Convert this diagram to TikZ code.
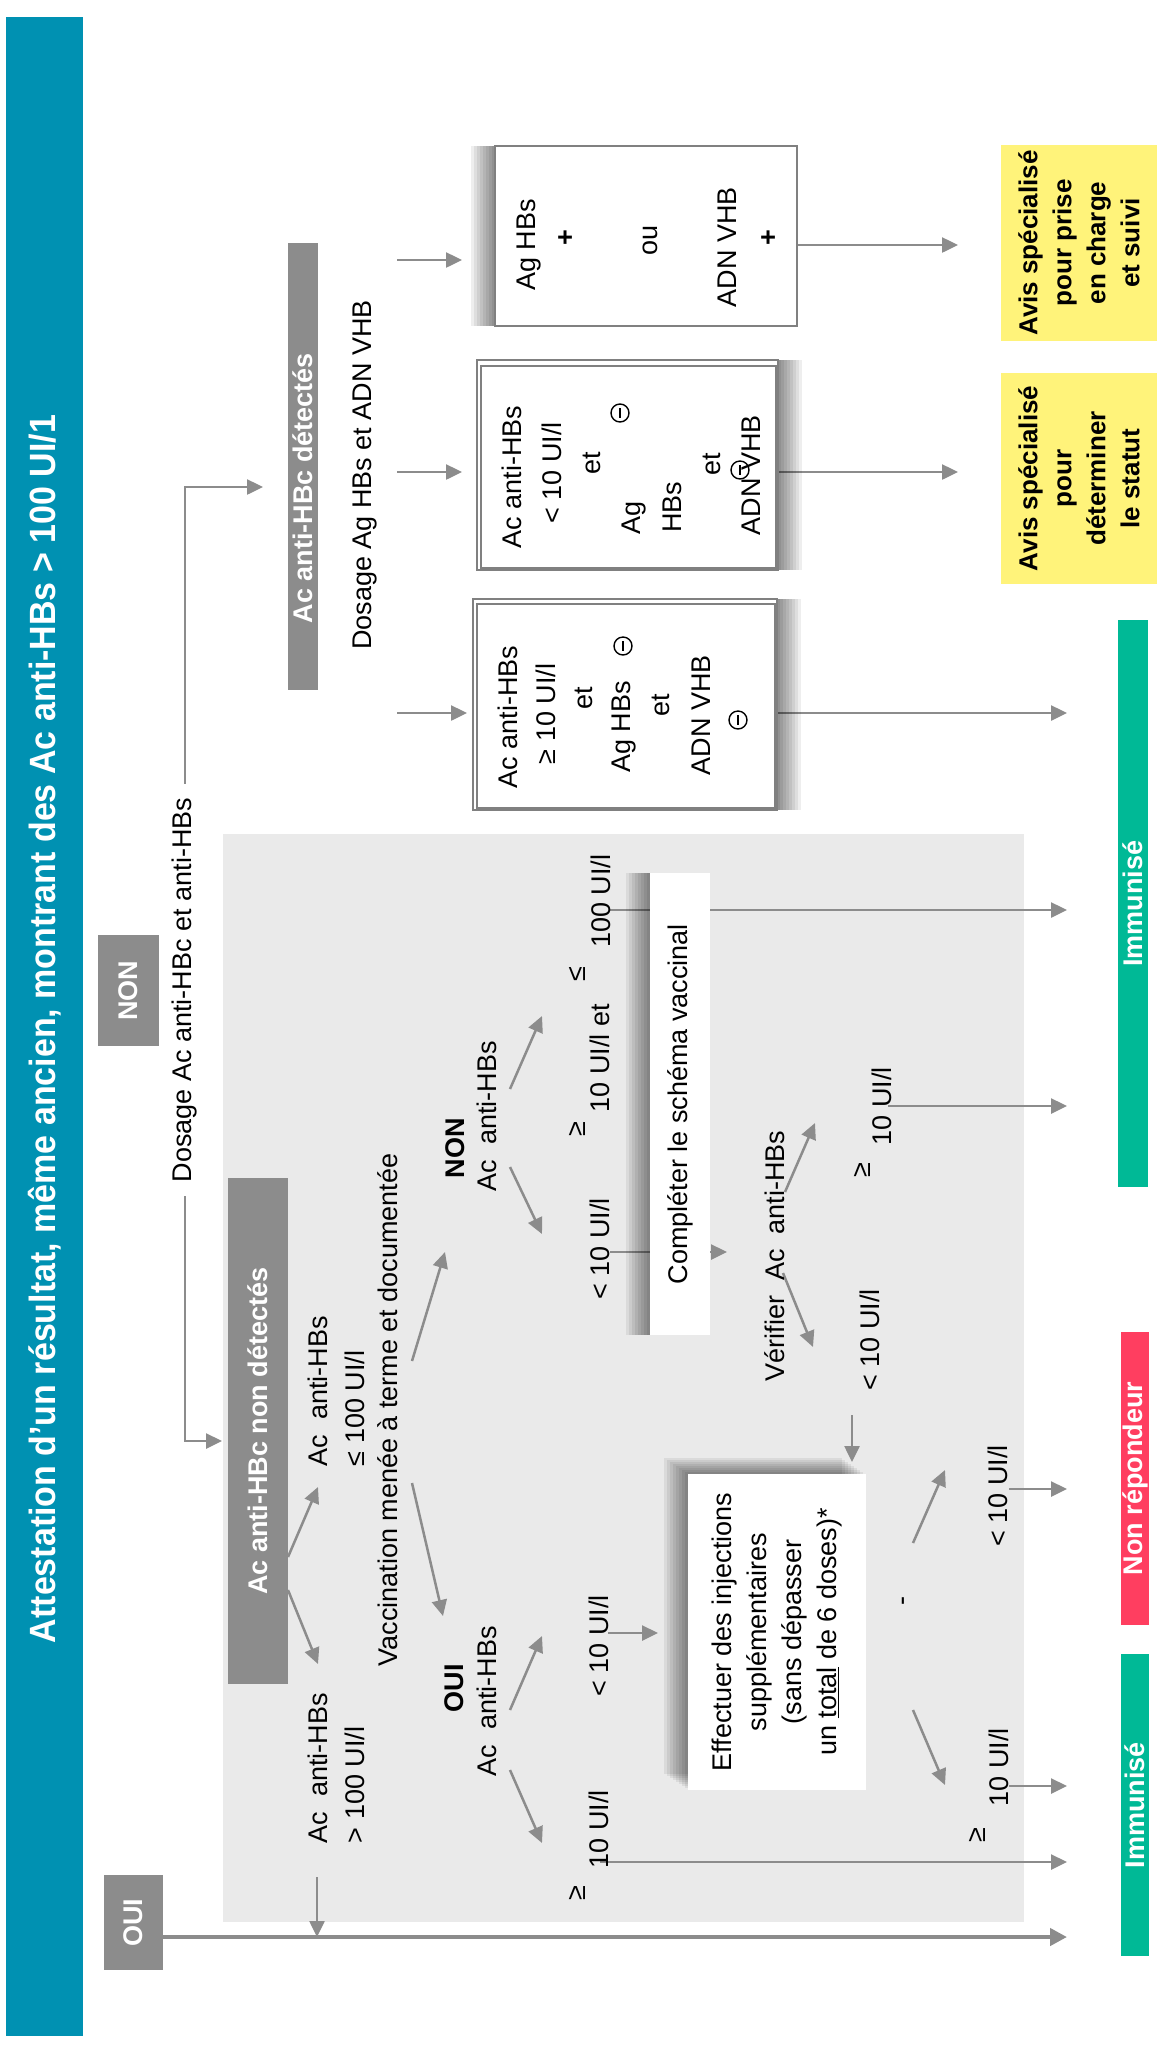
\documentclass[tikz,border=0pt]{standalone}
\usepackage{fontspec}
\usepackage{graphicx}
\setmainfont{Liberation Sans}
\newfontfamily\titlefont[FakeStretch=0.93]{Liberation Sans}
\usetikzlibrary{arrows.meta}
\definecolor{barblue}{RGB}{0,145,178}
\definecolor{boxgray}{RGB}{140,140,140}
\definecolor{regiongray}{RGB}{234,234,234}
\definecolor{arrowgray}{RGB}{140,140,140}
\definecolor{bordergray}{RGB}{128,128,128}
\definecolor{immgreen}{RGB}{0,185,150}
\definecolor{nonred}{RGB}{255,62,96}
\definecolor{avisyellow}{RGB}{255,243,122}
\begin{document}
\begin{tikzpicture}[x=1pt,y=-1pt,
  txt/.style={rotate=90, inner sep=0pt, font=\fontsize{27}{37}\selectfont},
  btxt/.style={rotate=90, inner sep=0pt, font=\fontsize{27}{37}\selectfont\bfseries},
  darkbox/.style={rotate=90, fill=boxgray, draw=none, text=white, inner sep=0pt, font=\fontsize{27}{37}\selectfont\bfseries},
  colbox/.style={rotate=90, draw=none, text=white, inner sep=0pt, font=\fontsize{27}{37}\selectfont\bfseries},
  yelbox/.style={rotate=90, fill=avisyellow, draw=none, inner sep=0pt, align=center, font=\fontsize{26}{34}\selectfont\bfseries},
  resbox/.style={rotate=90, fill=white, draw=bordergray, line width=2pt, inner sep=0pt},
  plainbox/.style={rotate=90, fill=white, draw=none, inner sep=0pt},
  arr/.style={draw=arrowgray, line width=2.5pt, -{Triangle[length=16pt,width=15pt]}},
  thickarr/.style={draw=arrowgray, line width=4.5pt, -{Triangle[length=17pt,width=17pt]}},
  minusc/.style={circle, draw=black, line width=1.4pt, minimum size=18pt, inner sep=0pt,
    path picture={\draw[line width=1.6pt] ([yshift=5pt]path picture bounding box.center) -- ([yshift=-5pt]path picture bounding box.center);}},
  sh/.style={preaction={fill=black, opacity=0.065, transform canvas={#1}}},
  shadowL/.style={sh={xshift=-3pt}, sh={xshift=-6pt}, sh={xshift=-9pt}, sh={xshift=-12pt},
    sh={xshift=-15pt}, sh={xshift=-18pt}, sh={xshift=-21pt}, sh={xshift=-24pt}},
  shadowR/.style={sh={xshift=3pt}, sh={xshift=6pt}, sh={xshift=9pt}, sh={xshift=12pt},
    sh={xshift=15pt}, sh={xshift=18pt}, sh={xshift=21pt}, sh={xshift=24pt}},
  shadowLT/.style={sh={xshift=-3pt,yshift=2pt}, sh={xshift=-6pt,yshift=4pt}, sh={xshift=-9pt,yshift=6pt},
    sh={xshift=-12pt,yshift=8pt}, sh={xshift=-15pt,yshift=10pt}, sh={xshift=-18pt,yshift=12pt},
    sh={xshift=-21pt,yshift=14pt}, sh={xshift=-24pt,yshift=16pt}}
]
\useasboundingbox (0,0) rectangle (1157,2046);
\fill[white] (0,0) rectangle (1157,2046);

% title bar
\node[fill=barblue, minimum width=77pt, minimum height=2019pt, inner sep=0pt, anchor=north west] (bar) at (6,17) {};
\node[rotate=90, text=white, inner sep=0pt] (title) at (44.5,1029)
  {\resizebox{1228pt}{!}{\titlefont\fontsize{36}{40}\selectfont\bfseries Attestation d’un résultat, même ancien, montrant des Ac anti-HBs > 100 UI/1}};

% light grey region
\node[fill=regiongray, minimum width=801pt, minimum height=1088pt, inner sep=0pt, anchor=north west] (region) at (223,834) {};

% OUI / NON headers
\node[darkbox, minimum width=95pt, minimum height=59pt] (ouibox) at (133.5,1922.5) {OUI};
\node[darkbox, minimum width=111pt, minimum height=61pt] (nonbox) at (128.5,990.5) {NON};

% dosage label on the vertical connector
\node[txt, fill=white, inner xsep=14pt] (dosage) at (185,990) {Dosage Ac anti-HBc et anti-HBs};

% anti-HBc boxes
\node[darkbox, minimum width=447pt, minimum height=30pt] (detbox) at (303,466.5) {};
\node[btxt, text=white] (dettxt) at (303,488) {Ac anti-HBc détectés};
\node[darkbox, minimum width=506pt, minimum height=60pt] (nondet) at (258,1431) {Ac anti-HBc non détectés};

\node[txt] (dosage2) at (365,475) {Dosage Ag HBs et ADN VHB};

% coordinates of free arrow ends
\coordinate (dettip) at (263,487);
\coordinate (nondettip) at (222,1441);
\coordinate (s1) at (397,260);  \coordinate (t1) at (462,260);
\coordinate (s2) at (397,472);  \coordinate (t2) at (462,472);
\coordinate (s3) at (397,713);  \coordinate (t3) at (467,713);
\coordinate (b1o) at (797,245); \coordinate (y1i) at (958,245);
\coordinate (b2o) at (778,472); \coordinate (y2i) at (958,472);
\coordinate (b3o) at (777,713); \coordinate (i1a) at (1067,713);
\coordinate (nd1) at (288,1557); \coordinate (le100in) at (318,1487);
\coordinate (nd2) at (288,1590); \coordinate (gt100in) at (318,1664);
\coordinate (gt100o) at (317,1877); \coordinate (ouij) at (317,1937);
\coordinate (ouio) at (163,1937); \coordinate (i2c) at (1067,1937);
\coordinate (va1) at (412,1361); \coordinate (nonin) at (445,1252);
\coordinate (va2) at (412,1483); \coordinate (ouiin) at (443,1616);
\coordinate (na1) at (510,1089); \coordinate (na1e) at (542,1016);
\coordinate (na2) at (510,1167); \coordinate (na2e) at (542,1234);
\coordinate (oa1) at (510,1710); \coordinate (oa1e) at (542,1636);
\coordinate (oa2) at (510,1770); \coordinate (oa2e) at (542,1843);
\coordinate (n100o) at (610,910); \coordinate (i1b) at (1067,910);
\coordinate (nlt10o) at (610,1252); \coordinate (verifin) at (727,1252);
\coordinate (o10o) at (600,1862); \coordinate (i2b) at (1067,1862);
\coordinate (olt10o) at (608,1633); \coordinate (effin1) at (658,1633);
\coordinate (ve1) at (785,1192); \coordinate (ve1e) at (815,1123);
\coordinate (ve2) at (783,1273); \coordinate (ve2e) at (813,1347);
\coordinate (v10o) at (888,1106); \coordinate (i1c) at (1067,1106);
\coordinate (vlt10o) at (852,1415); \coordinate (effin2) at (852,1462);
\coordinate (da1) at (913,1543); \coordinate (da1e) at (945,1470);
\coordinate (da2) at (913,1710); \coordinate (da2e) at (945,1785);
\coordinate (flt10o) at (1009,1489); \coordinate (nri) at (1067,1489);
\coordinate (f10o) at (1009,1786); \coordinate (i2a) at (1067,1786);

% connectors
\draw[arr] (dosage.east) |- (dettip);
\draw[arr] (dosage.west) |- (nondettip);
\draw[arr] (s1) -- (t1);
\draw[arr] (s2) -- (t2);
\draw[arr] (s3) -- (t3);
\draw[arr] (b1o) -- (y1i);
\draw[arr] (b2o) -- (y2i);
\draw[arr] (b3o) -- (i1a);
\draw[arr] (nd1) -- (le100in);
\draw[arr] (nd2) -- (gt100in);
\draw[arr] (gt100o) -- (ouij);
\draw[thickarr] (ouio) -- (i2c);
\draw[arr] (va1) -- (nonin);
\draw[arr] (va2) -- (ouiin);
\draw[arr] (na1) -- (na1e);
\draw[arr] (na2) -- (na2e);
\draw[arr] (oa1) -- (oa1e);
\draw[arr] (oa2) -- (oa2e);
\draw[arr] (n100o) -- (i1b);
\draw[arr] (nlt10o) -- (verifin);
\draw[arr] (o10o) -- (i2b);
\draw[arr] (olt10o) -- (effin1);
\draw[arr] (ve1) -- (ve1e);
\draw[arr] (ve2) -- (ve2e);
\draw[arr] (v10o) -- (i1c);
\draw[arr] (vlt10o) -- (effin2);
\draw[arr] (da1) -- (da1e);
\draw[arr] (da2) -- (da2e);
\draw[arr] (flt10o) -- (nri);
\draw[arr] (f10o) -- (i2a);

% result boxes
\node[resbox, shadowL, minimum width=180pt, minimum height=302pt] (box1) at (646,236) {};
\node[resbox, shadowR, minimum width=210pt, minimum height=301pt] (box2) at (627.5,465) {};
\node[resbox, shadowR, minimum width=211pt, minimum height=304pt] (box3) at (625,704.5) {};
\draw[bordergray, line width=1.3pt] (481,366) rectangle (776,568);
\draw[bordergray, line width=1.3pt] (477,604) rectangle (775,808);

\node[txt] (b1a) at (529,245) {Ag HBs};
\node[btxt] (b1p1) at (567,238) {+};
\node[txt] (b1ou) at (650,240) {ou};
\node[txt] (b1b) at (727,247) {ADN VHB};
\node[btxt] (b1p2) at (770,238) {+};

\node[txt] (b2a) at (512,477) {Ac anti-HBs};
\node[txt] (b2b) at (552,473) {< 10 UI/l};
\node[txt] (b2c) at (592,463) {et};
\node[minusc] (b2m1) at (620,413) {};
\node[txt] (b2d) at (634,518) {Ag};
\node[txt] (b2e) at (672,507) {HBs};
\node[txt] (b2f) at (712,464) {et};
\node[txt] (b2g) at (751,475) {ADN VHB};
\node[minusc] (b2m2) at (740,470) {};

\node[txt] (b3a) at (508,717) {Ac anti-HBs};
\node[txt] (b3b) at (546,714) {≥ 10 UI/l};
\node[txt] (b3c) at (584,698) {et};
\node[minusc] (b3m1) at (623,646) {};
\node[txt] (b3d) at (624,727) {Ag HBs};
\node[txt] (b3e) at (661,705) {et};
\node[txt] (b3f) at (701,715) {ADN VHB};
\node[minusc] (b3m2) at (738,720) {};

% outcome boxes
\node[yelbox, minimum width=196pt, minimum height=156pt] (yel1) at (1079,243) {Avis spécialisé\\pour prise\\en charge\\et suivi};
\node[yelbox, minimum width=211pt, minimum height=156pt] (yel2) at (1079,478.5) {Avis spécialisé\\pour\\déterminer\\le statut};
\node[colbox, fill=immgreen, minimum width=567pt, minimum height=30pt] (imm1) at (1133,903.5) {Immunisé};
\node[colbox, fill=nonred, minimum width=293pt, minimum height=28pt] (nonrep) at (1135,1478.5) {Non répondeur};
\node[colbox, fill=immgreen, minimum width=302pt, minimum height=28pt] (imm2) at (1135,1805) {Immunisé};

% grey region content
\node[txt, align=left] (le100) at (336,1391) {Ac~~anti-HBs\\≤ 100 UI/l};
\node[txt, align=left] (gt100) at (336,1768) {Ac~~anti-HBs\\> 100 UI/l};
\node[txt] (vacc) at (388,1410) {Vaccination menée à terme et documentée};
\node[btxt] (nonhdr) at (455,1148) {NON};
\node[txt] (nonac) at (487,1116) {Ac~~anti-HBs};
\node[btxt] (ouihdr) at (454,1688) {OUI};
\node[txt] (ouiac) at (487,1701) {Ac~~anti-HBs};

\node[txt] (nle) at (577,974) {≤};
\node[txt] (n100) at (601,901) {100 UI/l};
\node[txt] (nge) at (577,1129) {≥};
\node[txt] (n10et) at (600,1058) {10 UI/l et};
\node[txt] (nlt10) at (600,1249) {< 10 UI/l};
\node[txt] (olt10) at (599,1646) {< 10 UI/l};
\node[txt] (oge) at (577,1893) {≥};
\node[txt] (o10) at (599,1829) {10 UI/l};

\node[plainbox, shadowL, minimum width=462pt, minimum height=60pt, font=\fontsize{27}{37}\selectfont] (compl) at (680,1104) {Compléter le schéma vaccinal};
\node[plainbox, shadowLT, minimum width=316pt, minimum height=178pt, align=center, font=\fontsize{27}{35}\selectfont] (effect) at (777,1632) {Effectuer des injections\\supplémentaires\\(sans dépasser\\un \underline{total} de 6 doses)*};

\node[txt] (verif) at (775,1256) {Vérifier~~Ac~~anti-HBs};
\node[txt] (vge) at (862,1170) {≥};
\node[txt] (v10) at (882,1106) {10 UI/l};
\node[txt] (vlt10) at (870,1340) {< 10 UI/l};
\node[txt] (dash) at (906,1601) {-};
\node[txt] (flt10) at (998,1496) {< 10 UI/l};
\node[txt] (fge) at (977,1835) {≥};
\node[txt] (f10) at (999,1767) {10 UI/l};
\end{tikzpicture}
\end{document}
